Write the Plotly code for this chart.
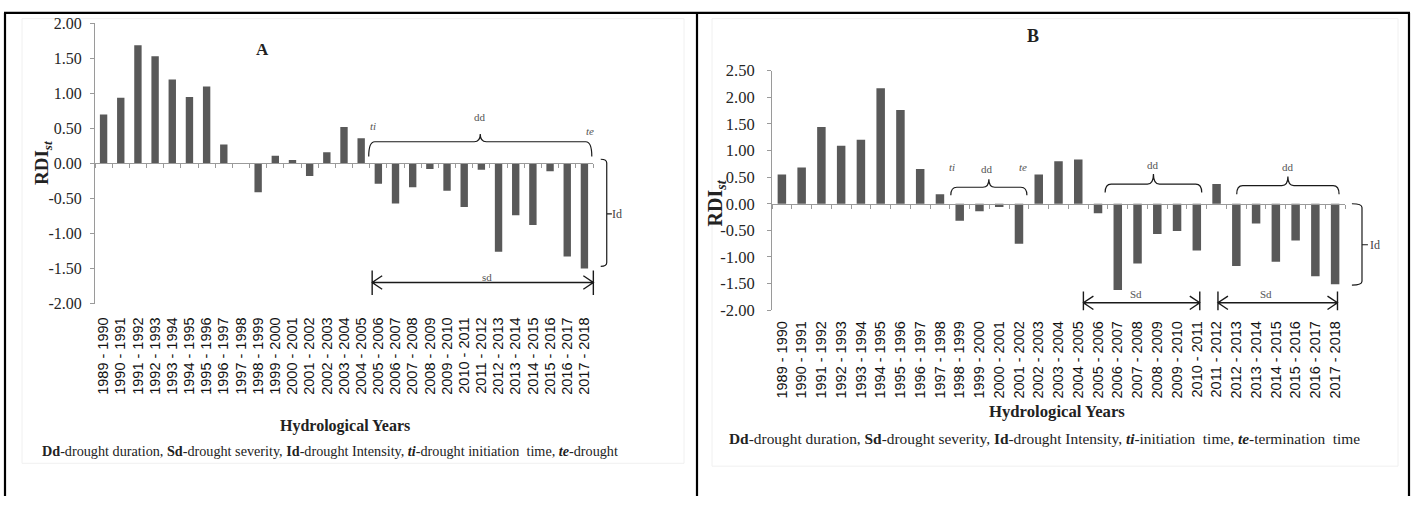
import plotly.graph_objects as go

# ---------------- data ----------------
years = ["1989 - 1990", "1990 - 1991", "1991 - 1992", "1992 - 1993", "1993 - 1994",
         "1994 - 1995", "1995 - 1996", "1996 - 1997", "1997 - 1998", "1998 - 1999",
         "1999 - 2000", "2000 - 2001", "2001 - 2002", "2002 - 2003", "2003 - 2004",
         "2004 - 2005", "2005 - 2006", "2006 - 2007", "2007 - 2008", "2008 - 2009",
         "2009 - 2010", "2010 - 2011", "2011 - 2012", "2012 - 2013", "2013 - 2014",
         "2014 - 2015", "2015 - 2016", "2016 - 2017", "2017 - 2018"]

rdi_a = [0.70, 0.94, 1.69, 1.53, 1.20, 0.95, 1.10, 0.27, 0.00, -0.41,
         0.11, 0.05, -0.18, 0.16, 0.52, 0.36, -0.29, -0.57, -0.34, -0.08,
         -0.39, -0.62, -0.09, -1.26, -0.74, -0.88, -0.11, -1.33, -1.50]

rdi_b = [0.55, 0.68, 1.44, 1.09, 1.20, 2.17, 1.76, 0.65, 0.18, -0.32,
         -0.14, -0.06, -0.75, 0.55, 0.80, 0.83, -0.18, -1.62, -1.12, -0.57,
         -0.51, -0.88, 0.37, -1.17, -0.37, -1.09, -0.69, -1.36, -1.51]

ticks_a = [-2.0, -1.5, -1.0, -0.5, 0.0, 0.5, 1.0, 1.5, 2.0]
ticks_b = [-2.0, -1.5, -1.0, -0.5, 0.0, 0.5, 1.0, 1.5, 2.0, 2.5]
tick_text_a = ["-2.00", "-1.50", "-1.00", "-0.50", "0.00", "0.50", "1.00", "1.50", "2.00"]
tick_text_b = ["-2.00", "-1.50", "-1.00", "-0.50", "0.00", "0.50", "1.00", "1.50", "2.00", "2.50"]

# ---------------- geometry ----------------
FW, FH = 1413, 506
SERIF = "Liberation Serif, Times New Roman, serif"
SANS = "Liberation Sans, Arial, sans-serif"
AXC = "#9a9a9a"
BARC = "#595959"
INK = "#222222"


def px(x):
    return x / FW


def py(y):
    return 1 - y / FH


PANELS = {
    "A": dict(x0=95, x1=593, y0=15, y1=306, r=(-2.0, 2.0), tfs=16, lab_off=10),
    "B": dict(x0=772, x1=1345, y0=64, y1=313, r=(-2.0, 2.5), tfs=16.5, lab_off=7),
}
N = len(years)


def dx(p, i):
    P = PANELS[p]
    return px(P["x0"] + (i + 0.5) * (P["x1"] - P["x0"]) / N)


def dy(p, v):
    P = PANELS[p]
    lo, hi = P["r"]
    return py(P["y1"] - (v - lo) / (hi - lo) * (P["y1"] - P["y0"]))


fig = go.Figure()

for key, vals, xa, ya, xt in [("A", rdi_a, "x", "y", "x3"), ("B", rdi_b, "x2", "y2", "x4")]:
    fig.add_trace(go.Bar(x=years, y=vals, xaxis=xa, yaxis=ya, marker_color=BARC,
                         marker_line_width=0, showlegend=False, hoverinfo="x+y"))
    # invisible helper so the zero-line tick axis is drawn
    fig.add_trace(go.Scatter(x=[0, N - 1], y=[0, 0], xaxis=xt, yaxis=ya, mode="markers",
                             marker=dict(opacity=0), showlegend=False, hoverinfo="skip"))

layout = dict(width=FW, height=FH, margin=dict(l=0, r=0, t=0, b=0),
              plot_bgcolor="white", paper_bgcolor="white", bargap=0.57,
              font=dict(family=SERIF, color=INK))

for key, xa, ya, xt, ticks, ttext in [("A", "xaxis", "yaxis", "xaxis3", ticks_a, tick_text_a),
                                      ("B", "xaxis2", "yaxis2", "xaxis4", ticks_b, tick_text_b)]:
    P = PANELS[key]
    xdom = [px(P["x0"]), px(P["x1"])]
    ydom = [py(P["y1"]), py(P["y0"])]
    yid = "y" if key == "A" else "y2"
    xid = "x" if key == "A" else "x2"
    layout[xa] = dict(domain=xdom, anchor=yid, type="category", categoryarray=years,
                      range=[-0.5, N - 0.5], showline=False, ticks="", showgrid=False,
                      tickangle=-90, ticklabelstandoff=P["lab_off"],
                      tickfont=dict(family=SANS, size=14.5, color="#111111"))
    layout[ya] = dict(domain=ydom, anchor=xid, range=list(P["r"]), tickvals=ticks, ticktext=ttext,
                      showline=True, linecolor=AXC, linewidth=1, ticks="outside", ticklen=4,
                      tickcolor=AXC, showgrid=False, zeroline=False,
                      ticklabelstandoff=5 if key == "A" else 9,
                      tickfont=dict(family=SERIF, size=P["tfs"], color="#262626"))
    lo, hi = P["r"]
    zero_pos = ydom[0] + (0 - lo) / (hi - lo) * (ydom[1] - ydom[0])
    layout[xt] = dict(overlaying=xid, anchor="free", position=zero_pos, domain=xdom,
                      range=[-0.5, N - 0.5], tickvals=[i - 0.5 for i in range(N + 1)],
                      showticklabels=False, ticks="outside", ticklen=4, tickcolor=AXC,
                      showline=True, linecolor=AXC, linewidth=1, showgrid=False,
                      zeroline=False)

fig.update_layout(**layout)

shapes = []
LC = "#1a1a1a"


def line_shape(path, w=1.2, color=LC):
    shapes.append(dict(type="path", path=path, xref="paper", yref="paper",
                       line=dict(color=color, width=w), layer="above"))


def brace(p, i0, i1, vb, vm, vt):
    x0, x1 = dx(p, i0), dx(p, i1)
    xm = (x0 + x1) / 2
    yb, ym, yt = dy(p, vb), dy(p, vm), dy(p, vt)
    rx = px(6)
    path = (f"M {x0},{yb} Q {x0},{ym} {x0 + rx},{ym} L {xm - rx},{ym} "
            f"Q {xm},{ym} {xm},{yt} Q {xm},{ym} {xm + rx},{ym} L {x1 - rx},{ym} "
            f"Q {x1},{ym} {x1},{yb}")
    line_shape(path)


def id_bracket(p, i_l, i_r, i_t, vtop, vbot, vmid):
    xl, xr, xt = dx(p, i_l), dx(p, i_r), dx(p, i_t)
    yt, yb, ym = dy(p, vtop), dy(p, vbot), dy(p, vmid)
    ry = 4 / FH
    path = (f"M {xl},{yt} Q {xr},{yt} {xr},{yt - ry} L {xr},{yb + ry} Q {xr},{yb} {xl},{yb} "
            f"M {xr},{ym} L {xt},{ym}")
    line_shape(path)


def sd_arrow(p, i0, i1, varr, vtop, vbot):
    x0, x1 = dx(p, i0), dx(p, i1)
    ya, yt, yb = dy(p, varr), dy(p, vtop), dy(p, vbot)
    cw, ch = px(10), 7 / FH
    path = (f"M {x0},{yt} L {x0},{yb} M {x1},{yt} L {x1},{yb} M {x0},{ya} L {x1},{ya} "
            f"M {x0 + cw},{ya + ch} L {x0},{ya} L {x0 + cw},{ya - ch} "
            f"M {x1 - cw},{ya + ch} L {x1},{ya} L {x1 - cw},{ya - ch}")
    line_shape(path, w=1.4)


# Panel A decorations
brace("A", 15.44, 28.43, 0.10, 0.31, 0.42)
id_bracket("A", 28.95, 29.3, 29.6, 0.06, -1.47, -0.72)
sd_arrow("A", 15.64, 28.52, -1.70, -1.53, -1.88)

# Panel B decorations
brace("B", 8.55, 12.4, 0.16, 0.31, 0.46)
brace("B", 16.36, 21.25, 0.21, 0.37, 0.56)
brace("B", 23.02, 28.2, 0.18, 0.34, 0.51)
id_bracket("B", 28.85, 29.36, 29.66, 0.0, -1.53, -0.77)
sd_arrow("B", 15.26, 21.15, -1.86, -1.65, -2.0)
sd_arrow("B", 22.07, 28.12, -1.86, -1.65, -2.0)

# frame lines
for path, w in [(f"M {px(4)},{py(4)} L {px(1410)},{py(4)}", 2.2),
                (f"M {px(5)},{py(4)} L {px(5)},{py(506)}", 2.2),
                (f"M {px(697)},{py(4)} L {px(697)},{py(506)}", 2.2),
                (f"M {px(1409)},{py(4)} L {px(1409)},{py(506)}", 2.2)]:
    line_shape(path, w=w, color="#000000")

# faint chart-area borders
for (a, b, c, d) in [(22, 10, 684, 472), (712, 10, 1398, 475)]:
    shapes.append(dict(type="rect", xref="paper", yref="paper", x0=px(a), x1=px(c),
                       y0=py(d), y1=py(b), line=dict(color="#f0f0f0", width=1), layer="below"))

fig.update_layout(shapes=shapes)

ann = []


def text(x, y, t, size=12, color=INK, angle=0, family=SERIF, xanchor="center"):
    ann.append(dict(x=x, y=y, xref="paper", yref="paper", text=t, showarrow=False,
                    font=dict(size=size, color=color, family=family), textangle=angle,
                    xanchor=xanchor, yanchor="middle"))


# titles
text(px(262), py(42), "<b>A</b>", size=17)
text(px(1033), py(28), "<b>B</b>", size=18)
text(px(43), py(160), "<b>RDI<sub><i>st</i></sub></b>", size=19, angle=-90)
text(px(716), py(202), "<b>RDI<sub><i>st</i></sub></b>", size=20, angle=-90)
text(px(345), py(433), "<b>Hydrological Years</b>", size=16)
text(px(1057), py(418), "<b>Hydrological Years</b>", size=16.7)
text(px(330), py(459),
     "<b>Dd</b>-drought duration, <b>Sd</b>-drought severity, <b>Id</b>-drought Intensity, "
     "<b><i>ti</i></b>-drought initiation  time, <b><i>te</i></b>-drought", size=14.2)
text(px(1044), py(446),
     "<b>Dd</b>-drought duration, <b>Sd</b>-drought severity, <b>Id</b>-drought Intensity, "
     "<b><i>ti</i></b>-initiation  time, <b><i>te</i></b>-termination  time", size=15.4)

# panel A labels
text(dx("A", 15.7), dy("A", 0.53), "<i>ti</i>", size=11, color="#555555")
text(dx("A", 21.9), dy("A", 0.66), "dd", size=11, color="#555555")
text(dx("A", 28.3), dy("A", 0.46), "<i>te</i>", size=11, color="#555555")
text(dx("A", 29.9), dy("A", -0.72), "Id", size=12, color="#444444")
text(dx("A", 22.3), dy("A", -1.62), "sd", size=11, color="#555555")

# panel B labels
text(dx("B", 8.6), dy("B", 0.69), "<i>ti</i>", size=11, color="#555555")
text(dx("B", 10.4), dy("B", 0.66), "dd", size=11, color="#555555")
text(dx("B", 12.2), dy("B", 0.69), "<i>te</i>", size=11, color="#555555")
text(dx("B", 18.8), dy("B", 0.72), "dd", size=11, color="#555555")
text(dx("B", 25.6), dy("B", 0.69), "dd", size=11, color="#555555")
text(dx("B", 30.0), dy("B", -0.77), "Id", size=12, color="#444444")
text(dx("B", 17.9), dy("B", -1.70), "Sd", size=11, color="#555555")
text(dx("B", 24.5), dy("B", -1.70), "Sd", size=11, color="#555555")

fig.update_layout(annotations=ann)

fig.write_html("out.html", config={"displayModeBar": False},
               post_script="document.body.style.margin='0';document.body.style.padding='0';")
